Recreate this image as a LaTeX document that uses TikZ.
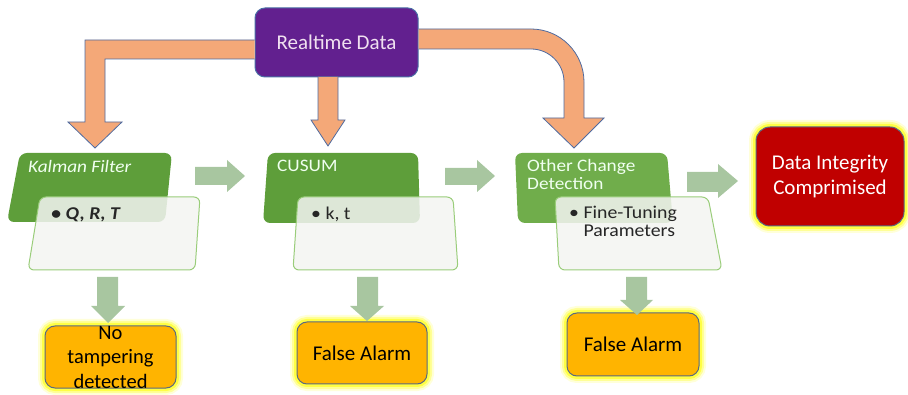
\documentclass[tikz,border=0pt]{standalone}
\usepackage{fontspec}
\setmainfont{Carlito}
\newfontfamily\widecarlito[FakeStretch=1.1]{Carlito}
\definecolor{rtpurple}{HTML}{62208F}
\definecolor{rtborder}{HTML}{4A6FA5}
\definecolor{feedfill}{HTML}{F4A878}
\definecolor{feedline}{HTML}{4F6BA0}
\definecolor{stagegreen}{HTML}{5E9E3A}
\definecolor{stagegreenlt}{HTML}{70AD4B}
\definecolor{paramfill}{HTML}{F3F4F1}
\definecolor{paramline}{HTML}{9ACD7A}
\definecolor{flowfill}{HTML}{A8C6A0}
\definecolor{alertfill}{HTML}{FFB400}
\definecolor{alertline}{HTML}{5A6A80}
\definecolor{breachred}{HTML}{C00000}
\definecolor{glowyellow}{HTML}{FFFF00}
\tikzset{
  glow/.style={
    preaction={draw=glowyellow, line width=14pt, draw opacity=0.15},
    preaction={draw=glowyellow, line width=10pt, draw opacity=0.3},
    preaction={draw=glowyellow, line width=6pt, draw opacity=0.55}},
  feedarrow/.style={fill=feedfill, draw=feedline, line width=0.8pt, line join=miter},
  flowarrow/.style={fill=flowfill, draw=none},
  stagebox/.style={fill=stagegreen, draw=none, rounded corners=7pt},
  parambox/.style={fill=paramfill, fill opacity=0.86, draw=paramline, line width=1pt, rounded corners=6pt},
  stagetext/.style={text=white!94!green, anchor=west, inner sep=0pt, font=\widecarlito\fontsize{17.5}{17.5}\selectfont},
  paramtext/.style={text=black!85, anchor=west, inner sep=0pt, align=left, font=\widecarlito\fontsize{18}{18}\selectfont},
  alertbox/.style={rectangle, rounded corners=10pt, fill=alertfill, draw=alertline, line width=1pt, glow},
  alerttext/.style={text=black, align=center, inner sep=0pt, font=\fontsize{21}{24.5}\selectfont},
}
\begin{document}
\begin{tikzpicture}[x=1pt, y=-1pt]
\useasboundingbox (0,0) rectangle (908,395);

% source of the data stream
\node[rectangle, rounded corners=10pt, fill=rtpurple, draw=rtborder, line width=1pt,
      minimum width=163pt, minimum height=69pt, text=white!88!violet,
      font=\fontsize{21}{24}\selectfont] (rt) at (336.5,42.5) {Realtime Data};

% feed arrows from the data source
\draw[feedarrow] (rt.west |- 0,40) -- (85,40) -- (85,122) -- (68,122) -- (95,148)
  -- (122,122) -- (105,122) -- (105,59) -- (rt.west |- 0,59);
\draw[feedarrow] (318,77) -- (318,120) -- (311,120) -- (328,146) -- (345,120)
  -- (338,120) -- (338,77);
\draw[feedarrow] (rt.east |- 0,29) -- (531,29) arc[start angle=-90, end angle=0, radius=53]
  -- (584,118) -- (604,118) -- (574,148) -- (543,118) -- (564,118) -- (564,82)
  arc[start angle=0, end angle=-90, radius=33] -- (rt.east |- 0,49);

% detection stages
\fill[stagebox] (20,153) -- (172,153) -- (165,222) -- (7,222) -- cycle;
\fill[stagebox] (268,153) -- (418,153) -- (420,223) -- (263,223) -- cycle;
\fill[stagebox, fill=stagegreenlt] (515,153) -- (667,153) -- (673,223) -- (518,223) -- cycle;

\node[stagetext, font=\widecarlito\itshape\fontsize{17.5}{17.5}\selectfont] (kf) at (28,166) {Kalman Filter};
\node[stagetext] (cs) at (277,166) {CUSUM};
\node[stagetext, align=left] (oc) at (527,174.5) {Other Change\\Detection};

% parameter panels
\draw[parambox] (40,197) -- (200,197) -- (195,270) -- (28,270) -- cycle;
\draw[parambox] (298,197) -- (453,197) -- (458,270) -- (293,270) -- cycle;
\draw[parambox] (555,197) -- (708,197) -- (722,270) -- (559,270) -- cycle;

\node[paramtext, font=\widecarlito\bfseries\itshape\fontsize{18}{18}\selectfont] (kp) at (51,215) {\textbullet\ Q, R, T};
\node[paramtext] (cp) at (311,214) {\textbullet\ k, t};
\node[paramtext, anchor=north west] (op) at (569,206) {\textbullet\ Fine-Tuning\\\hphantom{\textbullet\ }Parameters};

% flow between stages
\fill[flowarrow] (195,167) -- (227,167) -- (227,160) -- (245,176) -- (227,192) -- (227,185) -- (195,185) -- cycle;
\fill[flowarrow] (445,168) -- (477,168) -- (477,160) -- (495,176) -- (477,192) -- (477,185) -- (445,185) -- cycle;
\fill[flowarrow] (687,172) -- (718,172) -- (718,164) -- (738,181) -- (718,198) -- (718,192) -- (687,192) -- cycle;

% outcomes
\node[alertbox, minimum width=131pt, minimum height=62pt] (o1) at (110.5,357) {};
\node[alertbox, minimum width=130pt, minimum height=62pt] (o2) at (362,353) {};
\node[alertbox, minimum width=132pt, minimum height=63pt] (o3) at (633,344.5) {};
\node[alertbox, rounded corners=14pt, fill=breachred, minimum width=148pt, minimum height=99pt] (br) at (830,176.5) {};

\fill[flowarrow] (97,277) -- (118,277) -- (118,306) -- (125,306) -- (108,323) -- (91,306) -- (97,306) -- cycle;
\fill[flowarrow] (357,277) -- (378,277) -- (378,306) -- (384,306) -- (367,321) -- (350,306) -- (357,306) -- cycle;
\fill[flowarrow] (626,277) -- (647,277) -- (647,300) -- (653,300) -- (637,315) -- (620,300) -- (626,300) -- cycle;

\node[alerttext, font=\fontsize{20.5}{24.5}\selectfont] (t1) at (o1.center) {No\\tampering\\detected};
\node[alerttext] (t2) at (o2.center) {False Alarm};
\node[alerttext] (t3) at (o3.center) {False Alarm};
\node[alerttext, text=white] (tb) at (br.center) {Data Integrity\\Comprimised};
\end{tikzpicture}
\end{document}
